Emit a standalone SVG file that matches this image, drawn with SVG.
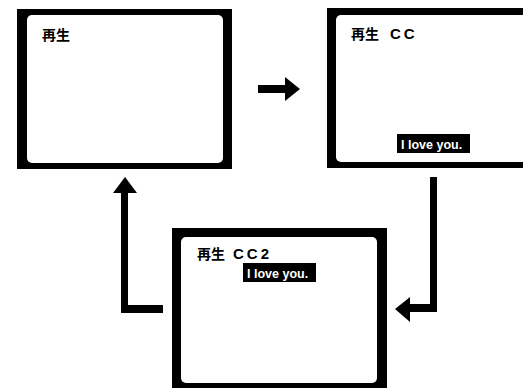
<svg xmlns="http://www.w3.org/2000/svg" width="523" height="388" viewBox="0 0 523 388">
<style>
.frame{fill:#000}
.screen{fill:#fff}
.jp{font-family:"Noto Sans CJK JP","Liberation Sans",sans-serif;font-weight:bold;font-size:14px;fill:#000}
.cc{font-family:"Liberation Sans",Arial,sans-serif;font-weight:bold;font-size:15px;fill:#000;letter-spacing:3px}
.cap{fill:#000}
.capt{font-family:"Liberation Sans",Arial,sans-serif;font-weight:bold;font-size:12.5px;fill:#fff}
.arrow{fill:#000}
</style>
<rect width="523" height="388" fill="#fff"/>
<g id="tv1">
<rect class="frame" x="17" y="9" width="215" height="160"/>
<rect class="screen" x="27" y="15" width="196" height="148" rx="5"/>
<text class="jp" x="42" y="40">再生</text>
</g>
<g id="tv2">
<rect class="frame" x="327" y="8" width="215" height="160"/>
<rect class="screen" x="336" y="15" width="196" height="147" rx="5"/>
<text class="jp" x="351" y="39">再生</text>
<text class="cc" x="390" y="39">CC</text>
<rect class="cap" x="397" y="134" width="73" height="19"/>
<text class="capt" x="401" y="148.5">I love you.</text>
</g>
<g id="tv3">
<rect class="frame" x="172" y="228" width="215" height="165"/>
<rect class="screen" x="181" y="237" width="196" height="146" rx="5"/>
<text class="jp" x="197" y="259">再生</text>
<text class="cc" x="233" y="259">CC2</text>
<rect class="cap" x="243" y="263" width="73" height="19"/>
<text class="capt" x="247" y="277.5">I love you.</text>
</g>
<g id="connectors">
<path class="arrow" d="M258,85 H285 V77 L300,89 L285,101 V93 H258 Z"/>
<path class="arrow" d="M430,177 H437 V312 H410 V322 L395,309 L410,297 V304 H430 Z"/>
<path class="arrow" d="M163,305 V313 H121 V193 H113 L125,177 L137,193 H128 V305 Z"/>
</g>
</svg>
